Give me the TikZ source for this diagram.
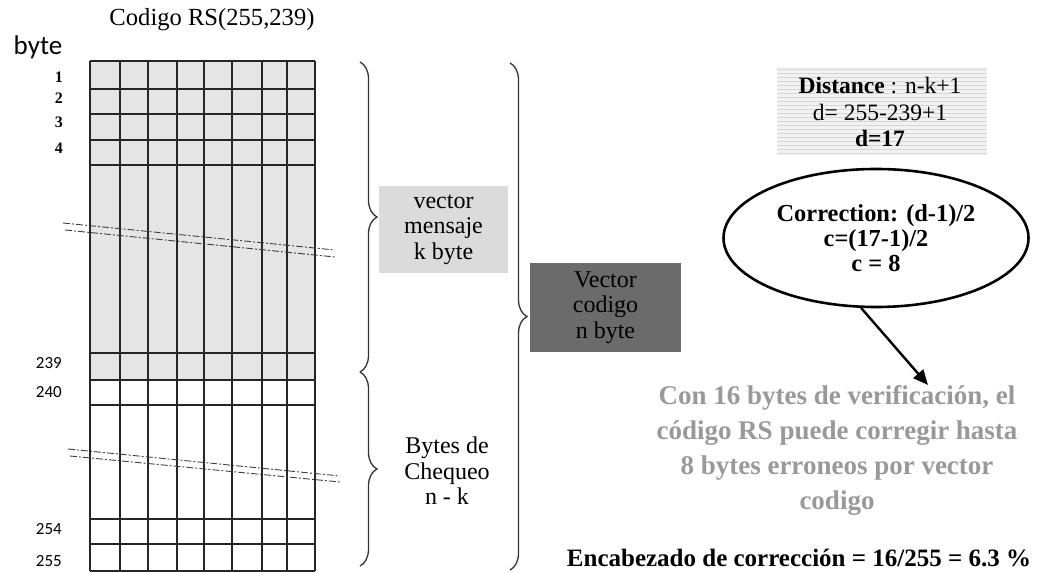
\documentclass[tikz,border=0pt]{standalone}
\usepackage{fontspec}
\setmainfont{Liberation Serif}
\newfontfamily\numfont{Carlito}
\usetikzlibrary{positioning,arrows.meta,shapes.geometric,decorations.pathreplacing}

\begin{document}
\begin{tikzpicture}[x=1pt, y=-1pt,
        every node/.style={inner sep=0pt},
        grid/.style={line width=1.4pt, draw=black!85},
        cut/.style={line width=0.9pt, draw=black!75, dash pattern=on 7pt off 2pt on 2pt off 2pt},
        brc/.style={decorate, decoration={brace, amplitude=17pt}, line width=1.3pt, draw=black!80},
        txt/.style={font=\fontsize{24}{25.5}\selectfont, align=center},
        lbl/.style={anchor=east, font=\bfseries\fontsize{16}{16}\selectfont},
        nlbl/.style={anchor=east, font=\numfont\fontsize{17}{17}\selectfont},
        arrow/.style={-{Triangle[length=15pt, width=13pt]}, line width=2.4pt}
    ]
    \useasboundingbox (0,0) rectangle (1046,572);

    % code word grid
    \fill[black!10] (90,61) rectangle (315,380);
    \foreach \x in {90,120,148,177,204,232,262,287,315}
        \draw[grid] (\x,61) -- (\x,571);
    \foreach \y in {61,89,114,140,165,353,380,405,519,544,571}
        \draw[grid] (90,\y) -- (315,\y);

    % cut marks
    \draw[cut] (63,223) -- (335,250);
    \draw[cut] (65,230) -- (335,257);
    \draw[cut] (68,449) -- (340,476);
    \draw[cut] (70,456) -- (340,482);

    % labels
    \node[font=\fontsize{24.6}{25}\selectfont] (title) at (212,20) {Codigo RS(255,239)};
    \node[font=\numfont\fontsize{27}{27}\selectfont] (byte) at (38,47) {byte};
    \foreach \i/\y in {1/77,2/98,3/122,4/148}
        \node[lbl] (n\i) at (63,\y) {\i};
    \foreach \i/\y in {239/363,240/392,254/529,255/561}
        \node[nlbl] (n\i) at (62,\y) {\i};

    % braces
    \coordinate (mtop) at (360,62);
    \coordinate (mbot) at (360,372);
    \coordinate (cbot) at (360,566);
    \coordinate (ntop) at (510,63);
    \coordinate (nbot) at (510,570);
    \draw[brc] (mtop) -- (mbot);
    \draw[brc] (mbot) -- (cbot);
    \draw[brc] (ntop) -- (nbot);

    \node[txt, fill=black!14, minimum width=129pt, minimum height=87pt] (msg) at (443.5,229.5) {vector\\mensaje\\k byte};
    \node[txt, fill=black!58, minimum width=151pt, minimum height=89pt] (cw) at (605.5,307.5) {Vector\\codigo\\n byte};
    \node[txt] (chk) at (447,471) {Bytes de\\Chequeo\\n - k};

    % distance box
    \fill[black!5] (777,67) rectangle (987,155);
    \foreach \y in {69,73,...,153}
        \draw[black!16, line width=0.7pt] (777,\y) -- (987,\y);
    \node[font=\fontsize{23.5}{26.5}\selectfont, align=center] (dist) at (880,112)
        {\textbf{Distance} : n-k+1\\d= 255-239+1\\\textbf{d=17}};

    % correction
    \node[ellipse, draw, line width=2.6pt, minimum width=305pt, minimum height=138pt,
          font=\bfseries\fontsize{24.4}{25}\selectfont, align=center] (corr) at (876,238)
        {Correction: (d-1)/2\\c=(17-1)/2\\c = 8};
    \coordinate (tip) at (928,385);
    \draw[arrow] (corr.258) -- (tip);

    \node[font=\bfseries\fontsize{27}{35}\selectfont, text=black!40, align=center] (note) at (837,450)
        {Con 16 bytes de verificación, el\\código RS puede corregir hasta\\8 bytes erroneos por vector\\codigo};
    \node[font=\bfseries\fontsize{25}{26}\selectfont] (ovh) at (799,558)
        {Encabezado de corrección = 16/255 = 6.3 \%};
\end{tikzpicture}
\end{document}
